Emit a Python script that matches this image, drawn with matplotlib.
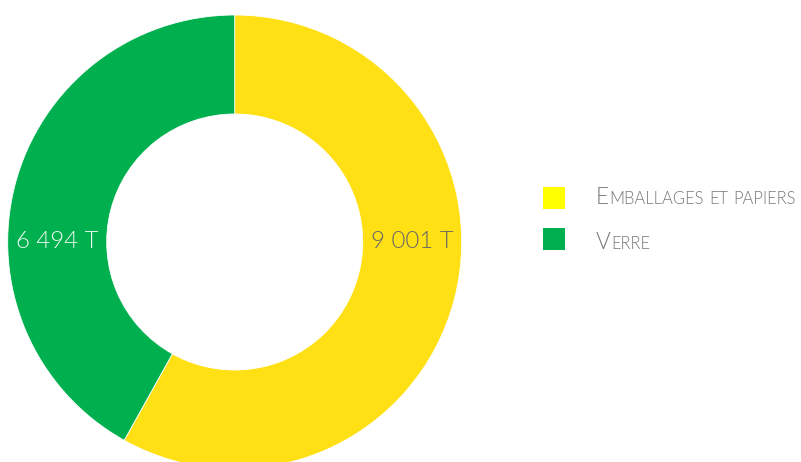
import matplotlib
matplotlib.use("Agg")
import matplotlib.pyplot as plt
from matplotlib.patches import Rectangle
import numpy as np

categories = ["Emballages et papiers", "Verre"]
values = [9001, 6494]
value_labels = ["9 001 T", "6 494 T"]
slice_colors = ["#FFE014", "#00B04F"]
legend_colors = ["#FFFF00", "#00B050"]
label_colors = ["#666666", "#eef8f0"]

W, H = 801, 462
fig = plt.figure(figsize=(W / 100, H / 100), dpi=100)
fig.patch.set_facecolor("white")

# donut geometry in pixels
cx, cy, R, r_in = 234.7, 242.0, 227.0, 128.0
ax = fig.add_axes([(cx - R) / W, (H - cy - R) / H, 2 * R / W, 2 * R / H])
ax.set_xlim(-1, 1)
ax.set_ylim(-1, 1)
ax.axis("off")

ring = 1 - r_in / R
ax.pie(values, colors=slice_colors, startangle=90, counterclock=False,
       radius=1, wedgeprops=dict(width=ring, edgecolor="white", linewidth=0.6))
ax.set_xlim(-1, 1)
ax.set_ylim(-1, 1)

FONT = dict(family="Lato", fontweight=300)

mid = 1 - ring / 2
for lab, col, ang in zip(value_labels, label_colors, [0, 180]):
    a = np.deg2rad(ang)
    ax.text(mid * np.cos(a), mid * np.sin(a), lab, ha="center", va="center",
            fontsize=17.3, color=col, **FONT)

# legend (small caps emulated)
renderer = fig.canvas.get_renderer()
sq_tops = [187, 228]
baselines = [204, 249]
for cat, col, top, base in zip(categories, legend_colors, sq_tops, baselines):
    fig.add_artist(Rectangle((543 / W, 1 - (top + 22) / H), 22 / W, 22 / H,
                             transform=fig.transFigure, facecolor=col,
                             edgecolor="none"))
    x = 596
    words = cat.split(" ")
    first = True
    for wi, word in enumerate(words):
        pieces = []
        if first:
            pieces.append((word[0], 16.3))
            rest = word[1:]
            first = False
        else:
            rest = word
        if rest:
            pieces.append((rest.upper(), 11.9))
        if wi < len(words) - 1:
            pieces.append((" ", 11.9))
        for txt, fs in pieces:
            t = fig.text(x / W, 1 - base / H, txt, ha="left", va="baseline",
                         fontsize=fs, color="#777777", **FONT)
            bb = t.get_window_extent(renderer)
            if txt == " ":
                x += fs * 100 / 72 * 0.32
            else:
                x = bb.x1

fig.savefig("out.png", dpi=100, facecolor="white")
